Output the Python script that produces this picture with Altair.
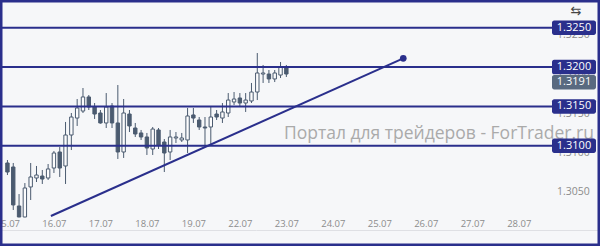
import altair as alt
import pandas as pd

# ---- data ----
day_labels = ["15.07", "16.07", "17.07", "18.07", "19.07", "22.07",
              "23.07", "24.07", "25.07", "26.07", "27.07", "28.07"]
day_positions = [0, 8, 16, 24, 32, 40, 48, 56, 64, 72, 80, 88]

opens = [1.30780, 1.30729, 1.30233, 1.30093, 1.30475, 1.30589, 1.30614, 1.30589, 1.30716, 1.30920,
         1.30742, 1.31136, 1.31352, 1.31441, 1.31620, 1.31492, 1.31416, 1.31289, 1.31505, 1.31289,
         1.30920, 1.31403, 1.31225, 1.31162, 1.31111, 1.30958, 1.31200, 1.31047, 1.30920, 1.31098,
         1.31073, 1.31073, 1.31391, 1.31327, 1.31238, 1.31238, 1.31403, 1.31352, 1.31416, 1.31556,
         1.31607, 1.31543, 1.31569, 1.31683, 1.31912, 1.31912, 1.31849, 1.31899, 1.31989]
highs = [1.30818, 1.30780, 1.30385, 1.30525, 1.30780, 1.30742, 1.30691, 1.30767, 1.30933, 1.30983,
         1.31302, 1.31416, 1.31594, 1.31734, 1.31645, 1.31543, 1.31454, 1.31670, 1.31543, 1.31772,
         1.31594, 1.31454, 1.31289, 1.31200, 1.31162, 1.31238, 1.31225, 1.31085, 1.31200, 1.31174,
         1.31162, 1.31480, 1.31480, 1.31365, 1.31365, 1.31492, 1.31454, 1.31543, 1.31670, 1.31683,
         1.31670, 1.31670, 1.31798, 1.32179, 1.32027, 1.31963, 1.31963, 1.32065, 1.32027]
lows = [1.30627, 1.30182, 1.30090, 1.30090, 1.30309, 1.30538, 1.30513, 1.30564, 1.30653, 1.30602,
        1.30513, 1.30945, 1.31251, 1.31416, 1.31454, 1.31340, 1.31280, 1.31225, 1.31225, 1.30831,
        1.30844, 1.31174, 1.31111, 1.31073, 1.30882, 1.30882, 1.30958, 1.30665, 1.30818, 1.31034,
        1.31047, 1.30907, 1.31289, 1.31200, 1.30983, 1.31009, 1.31327, 1.31289, 1.31365, 1.31518,
        1.31492, 1.31429, 1.31543, 1.31581, 1.31798, 1.31798, 1.31810, 1.31861, 1.31874]
closes = [1.30665, 1.30246, 1.30093, 1.30462, 1.30602, 1.30627, 1.30576, 1.30704, 1.30907, 1.30716,
          1.31136, 1.31365, 1.31480, 1.31620, 1.31492, 1.31403, 1.31289, 1.31492, 1.31289, 1.30920,
          1.31416, 1.31251, 1.31149, 1.31111, 1.30971, 1.31212, 1.31009, 1.30907, 1.31111, 1.31111,
          1.31098, 1.31378, 1.31352, 1.31238, 1.31225, 1.31365, 1.31365, 1.31429, 1.31581, 1.31594,
          1.31543, 1.31581, 1.31683, 1.31925, 1.31925, 1.31849, 1.31925, 1.32001, 1.31912]

level_values = [1.3250, 1.3200, 1.3150, 1.3100]
level_labels = ["1.3250", "1.3200", "1.3150", "1.3100"]

trend_idx = [7.48, 68.12]
trend_price = [1.30106, 1.32112]

last_price = 1.3191
last_label = "1.3191"

y_ticks = [1.3050, 1.3100, 1.3150, 1.3200, 1.3250]
y_tick_labels = ["1.3050", "1.3100", "1.3150", "1.3200", "1.3250"]
watermark = "Портал для трейдеров - ForTrader.ru"
corner_icon = "⇆"

# ---- styling ----
NAVY = "#2a2f8c"
CANDLE = "#4b5b70"
BG = "#f6f7f9"
FONT = "Open Sans"
LABEL = "#8c8c8c"

candles = pd.DataFrame({
    "idx": list(range(len(opens))),
    "open": opens, "high": highs, "low": lows, "close": closes,
})
days = pd.DataFrame({"idx": day_positions, "label": day_labels})
ticks = pd.DataFrame({"price": y_ticks, "label": y_tick_labels})
levels = pd.DataFrame({"price": level_values, "label": level_labels})
trend = pd.DataFrame({"idx": trend_idx, "price": trend_price})
last_df = pd.DataFrame({"price": [last_price], "label": [last_label]})
one = pd.DataFrame({"a": [0]})

xscale = alt.Scale(domain=[-0.42, 101.12], nice=False, zero=False)
yscale = alt.Scale(domain=[1.297239, 1.328537], nice=False, zero=False)


def X(field):
    return alt.X(field, scale=xscale, axis=None, title=None)


def Y(field):
    return alt.Y(field, scale=yscale, axis=None, title=None)


wicks = alt.Chart(candles).mark_rule(color=CANDLE, strokeWidth=1).encode(
    x=X("idx:Q"), y=Y("low:Q"), y2="high:Q",
)

bodies = alt.Chart(candles).mark_bar(width=3.4, stroke=CANDLE, strokeWidth=1).encode(
    x=X("idx:Q"), y=Y("open:Q"), y2="close:Q",
    fill=alt.condition("datum.close > datum.open", alt.value("#fcfcfd"), alt.value(CANDLE)),
)

# time axis: baseline rule and date labels placed through the x scale
x_domain = alt.Chart(one).mark_rule(color="#dfe0e4", strokeWidth=1).encode(
    x=alt.value(0), x2=alt.value(600), y=alt.value(230.5))
x_labels = alt.Chart(days).mark_text(
    color=LABEL, fontSize=9.5, font=FONT, align="center", baseline="middle", dx=0.5).encode(
    x=X("idx:Q"), y=alt.value(224), text="label:N")

# price axis labels placed through the y scale (drawn just below each level)
y_labels = alt.Chart(ticks).mark_text(
    color=LABEL, fontSize=10.5, font=FONT, align="left", baseline="middle", dy=7.5).encode(
    y=Y("price:Q"), x=alt.value(557), text="label:N")

level_lines = alt.Chart(levels).mark_rule(color=NAVY, strokeWidth=2).encode(
    y=Y("price:Q"), x=alt.value(0), x2=alt.value(556),
)

trend_line = alt.Chart(trend).mark_line(color=NAVY, strokeWidth=2).encode(
    x=X("idx:Q"), y=Y("price:Q"),
)
trend_dot = alt.Chart(trend).transform_filter("datum.idx > 50").mark_point(
    filled=True, color=NAVY, size=45, opacity=1).encode(
    x=X("idx:Q"), y=Y("price:Q"),
)

badge_path = ("M-0.9,-0.33 H0.9 A0.1,0.1 0 0 1 1,-0.23 V0.23 A0.1,0.1 0 0 1 0.9,0.33 "
              "H-0.9 A0.1,0.1 0 0 1 -1,0.23 V-0.23 A0.1,0.1 0 0 1 -0.9,-0.33 Z")

level_badges = alt.Chart(levels).mark_point(
    shape=badge_path, filled=True, color=NAVY, size=44 * 44, opacity=1).encode(
    y=Y("price:Q"), x=alt.value(574),
)
level_texts = alt.Chart(levels).mark_text(
    color="white", fontSize=11, font=FONT, align="center", baseline="middle").encode(
    y=Y("price:Q"), x=alt.value(574), text="label:N",
)
last_badge = alt.Chart(last_df).mark_point(
    shape=badge_path, filled=True, color="#596a80", size=44 * 44, opacity=1, yOffset=8).encode(
    y=Y("price:Q"), x=alt.value(574),
)
last_text = alt.Chart(last_df).mark_text(
    color="white", fontSize=11, font=FONT, align="center", baseline="middle", yOffset=8).encode(
    y=Y("price:Q"), x=alt.value(574), text="label:N",
)

wm = alt.Chart(one).mark_text(
    text=watermark, color="#aaaaaa", fontSize=17.5, font=FONT, align="left",
    baseline="alphabetic").encode(x=alt.value(284), y=alt.value(139))

icon = alt.Chart(one).mark_text(
    text=corner_icon, color="#444444", fontSize=13, font="DejaVu Sans", align="center",
    baseline="middle").encode(x=alt.value(576), y=alt.value(11))

border = alt.Chart(one).mark_rect(fill=None, stroke=NAVY, strokeWidth=5).encode(
    x=alt.value(0), x2=alt.value(600), y=alt.value(0), y2=alt.value(246))

chart = alt.layer(
    x_domain, x_labels, y_labels, wicks, bodies, wm, level_lines, trend_line, trend_dot,
    level_badges, level_texts, last_badge, last_text, icon, border,
).properties(
    width=600, height=246, autosize=alt.AutoSizeParams(type="none"), padding=0,
    background=BG,
).configure_view(stroke=None, fill=BG)

chart.save("out.html", embed_options={"renderer": "svg", "actions": False})
